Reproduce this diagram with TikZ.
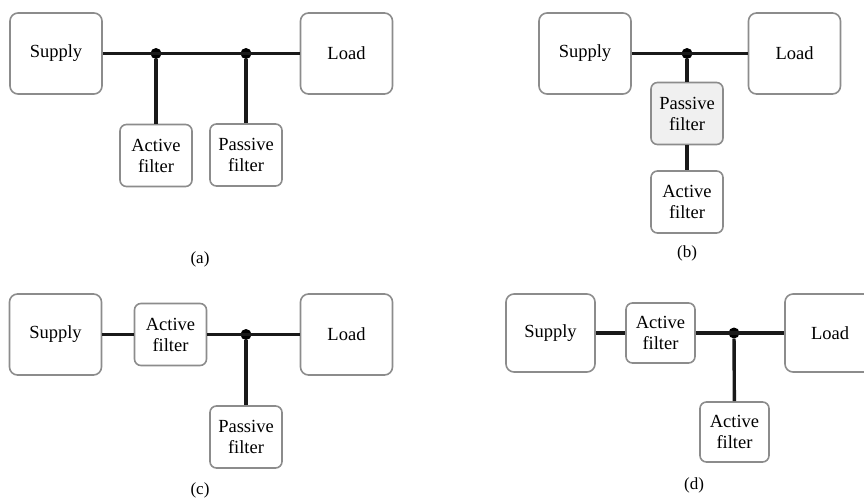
\documentclass[tikz,border=0pt]{standalone}
\usepackage{fontspec}
\setmainfont{Liberation Serif}
\begin{document}
\begin{tikzpicture}[x=1pt,y=-1pt,
  box/.style={draw=black!45, line width=1.6pt, rounded corners=8pt, align=center,
    font=\fontsize{18.5}{21}\selectfont, inner sep=0pt},
  bigbox/.style={box, minimum width=92pt, minimum height=81pt},
  smallbox/.style={box, rounded corners=6.5pt, minimum width=72pt, minimum height=62pt},
  wire/.style={line width=3.4pt, black!90},
  junc/.style={circle, fill=black, inner sep=0pt, minimum size=11pt},
  sublabel/.style={font=\fontsize{17}{19}\selectfont}
]
\useasboundingbox (0,0) rectangle (864,499);
\clip (0,0) rectangle (864,499);

% (a)
\node[bigbox] (sa) at (56,53.5) {Supply};
\node[bigbox] (la) at (346.5,53.5) {Load};
\node[smallbox] (afa) at (156,155.5) {Active\\filter};
\node[smallbox] (pfa) at (246,155) {Passive\\filter};
\node[junc] (ja1) at (156,53.5) {};
\node[junc] (ja2) at (246,53.5) {};
\draw[wire] (sa) -- (la);
\draw[wire] (ja1) -- (afa);
\draw[wire] (ja2) -- (pfa);
\node[sublabel] (capa) at (200,259) {(a)};

% (b)
\node[bigbox] (sb) at (585,53.5) {Supply};
\node[bigbox] (lb) at (794.5,53.5) {Load};
\node[smallbox, fill=black!6] (pfb) at (687,113.5) {Passive\\filter};
\node[smallbox] (afb) at (687,202) {Active\\filter};
\node[junc] (jb) at (687,53.5) {};
\draw[wire] (sb) -- (lb);
\draw[wire] (jb) -- (pfb);
\draw[wire] (pfb) -- (afb);
\node[sublabel] (capb) at (687,253) {(b)};

% (c)
\node[bigbox] (sc) at (55.5,334.5) {Supply};
\node[smallbox] (afc) at (170.5,334.5) {Active\\filter};
\node[bigbox] (lc) at (346.5,334.5) {Load};
\node[smallbox] (pfc) at (246,437) {Passive\\filter};
\node[junc] (jc) at (246,334.5) {};
\draw[wire] (sc) -- (afc);
\draw[wire] (afc) -- (lc);
\draw[wire] (jc) -- (pfc);
\node[sublabel] (capc) at (200,490) {(c)};

% (d)
\node[bigbox, minimum width=89pt, minimum height=78pt] (sd) at (550.5,333) {Supply};
\node[smallbox, minimum width=69pt, minimum height=60pt] (afd) at (660.5,333) {Active\\filter};
\node[bigbox, minimum width=90pt, minimum height=78pt] (ld) at (830,333) {Load};
\node[smallbox, minimum width=69pt, minimum height=60pt] (afd2) at (734.5,432) {Active\\filter};
\node[junc] (jd) at (734,333) {};
\draw[wire] (sd) -- (afd);
\draw[wire] (afd) -- (ld);
\draw[wire] (jd) -- (afd2);
\node[sublabel] (capd) at (694,485) {(d)};
\end{tikzpicture}
\end{document}
